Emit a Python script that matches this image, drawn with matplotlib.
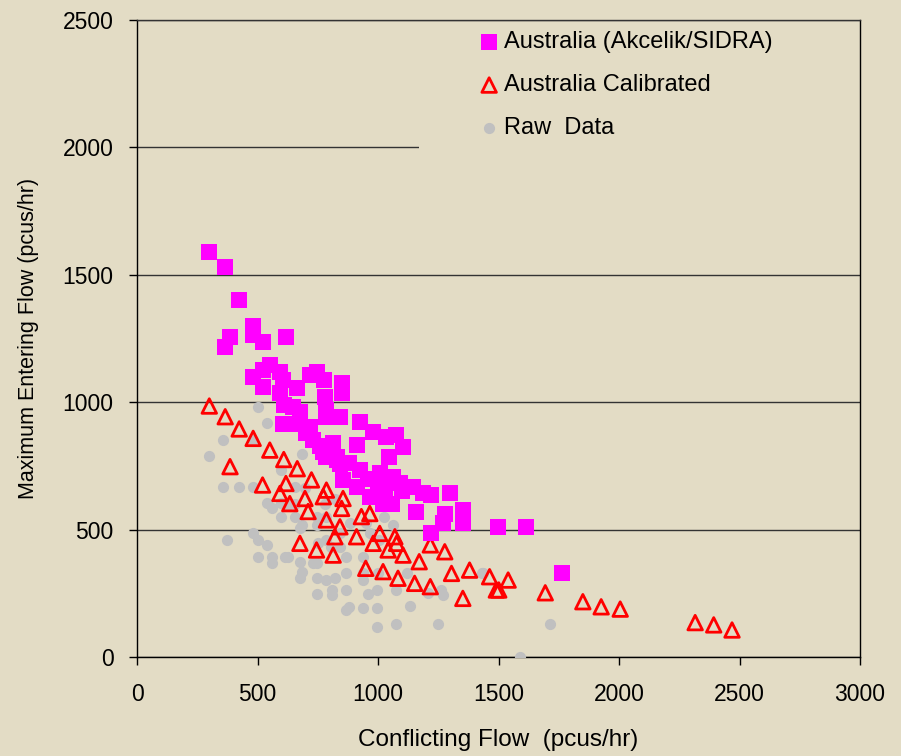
import matplotlib
matplotlib.use("Agg")
import matplotlib.pyplot as plt
from matplotlib.patches import Rectangle

plt.rcParams['font.family'] = ['Liberation Sans', 'DejaVu Sans']

# Australia (Akcelik/SIDRA)
sidra_x = [300, 365, 425, 482, 386, 366, 482, 521, 618, 551, 482, 524, 593, 524, 607, 593,
           662, 717, 745, 775, 851, 851, 782, 609, 648, 676, 786, 607, 662, 717, 786, 842,
           924, 980, 1035, 1074, 1104, 911, 731, 814, 773, 828, 1045, 842, 924, 1007, 1063,
           786, 828, 1090, 855, 911, 966, 1028, 1021, 1146, 1187, 1221, 1300, 1159, 1280,
           1352, 1352, 1270, 1221, 1498, 1613, 1762, 960, 700, 760, 880, 1000, 1100, 1060]
sidra_y = [1590, 1530, 1400, 1300, 1257, 1218, 1264, 1236, 1257, 1146, 1100, 1126, 1120,
           1061, 1087, 1036, 1056, 1107, 1120, 1087, 1074, 1037, 1021, 989, 982, 962, 968,
           916, 916, 903, 943, 943, 923, 884, 864, 871, 825, 832, 851, 838, 806, 786, 786,
           759, 734, 721, 708, 786, 773, 681, 695, 668, 629, 642, 602, 668, 642, 636, 642,
           571, 563, 577, 524, 524, 485, 511, 510, 330, 700, 880, 830, 760, 690, 650, 600]

# Australia Calibrated
cal_x = [300, 366, 424, 482, 386, 551, 609, 665, 521, 724, 593, 618, 634, 697, 710, 786,
         773, 786, 855, 849, 842, 821, 676, 745, 814, 911, 931, 966, 980, 1007, 1042, 1070,
         1077, 1104, 949, 1021, 1083, 1152, 1171, 1217, 1277, 1305, 1217, 1352, 1380, 1463,
         1491, 1540, 1501, 1694, 1850, 1926, 2005, 2316, 2393, 2469]
cal_y = [985, 943, 895, 858, 747, 812, 775, 739, 675, 695, 642, 681, 602, 622, 571, 655,
         629, 538, 622, 583, 511, 472, 446, 420, 400, 472, 551, 563, 446, 485, 420, 472,
         446, 400, 348, 335, 309, 289, 374, 440, 413, 328, 276, 230, 341, 315, 263, 302,
         263, 252, 217, 197, 188, 135, 126, 106]

# Raw Data
raw_x = [500, 540, 355, 482, 298, 685, 597, 355, 424, 482, 655, 697, 540, 562, 597, 627,
         655, 597, 655, 683, 676, 745, 784, 745, 782, 821, 883, 952, 966, 1024, 1063, 1005,
         842, 786, 752, 842, 807, 372, 482, 503, 540, 500, 562, 560, 614, 627, 676, 731,
         745, 869, 938, 683, 676, 745, 786, 821, 869, 938, 938, 998, 745, 811, 811, 869,
         959, 996, 1074, 880, 869, 938, 996, 1132, 996, 1074, 1247, 1122, 1208, 1263, 1270,
         1433, 1436, 1712, 1588]
raw_y = [982, 917, 852, 852, 789, 797, 734, 668, 668, 668, 668, 662, 606, 583, 606, 597,
         602, 551, 551, 518, 505, 551, 551, 518, 602, 622, 524, 524, 485, 551, 518, 459,
         485, 459, 446, 433, 433, 459, 485, 459, 440, 394, 394, 368, 394, 394, 374, 368,
         368, 394, 394, 335, 309, 309, 302, 309, 328, 328, 302, 328, 246, 263, 243, 263,
         246, 263, 263, 197, 184, 191, 191, 200, 119, 128, 128, 328, 250, 263, 243, 331,
         328, 128, 0]

bg = '#E3DCC5'
fig = plt.figure(figsize=(9.01, 7.56), dpi=100, facecolor=bg)
ax = fig.add_axes([137/901, 1 - 657/756, (860 - 137)/901, (657 - 20)/756])
ax.set_facecolor(bg)

ax.scatter(raw_x, raw_y, s=65, marker='o', color='#C0C0C0', linewidths=0,
           label='Raw  Data', zorder=3)
ax.scatter(cal_x, cal_y, s=110, marker='^', facecolors='none', edgecolors='#FF0000',
           linewidths=2, label='Australia Calibrated', zorder=4)
ax.scatter(sidra_x, sidra_y, s=135, marker='s', color='#FF00FF', linewidths=0,
           label='Australia (Akcelik/SIDRA)', zorder=5)

ax.set_xlim(0, 3000)
ax.set_ylim(0, 2500)
ax.set_xticks([0, 500, 1000, 1500, 2000, 2500, 3000])
ax.set_yticks([0, 500, 1000, 1500, 2000, 2500])
ax.yaxis.grid(True, color='#333333', linewidth=1)
ax.set_axisbelow(True)
for s in ax.spines.values():
    s.set_color('#000000')
    s.set_linewidth(1)
ax.spines['top'].set_color('#333333')
ax.tick_params(axis='both', direction='out', length=6, width=1, colors='#000000',
               labelsize=16.5)
ax.tick_params(axis='x', pad=13)
ax.tick_params(axis='y', pad=11)

ax.set_xlabel('Conflicting Flow  (pcus/hr)', fontsize=17.5, labelpad=16)
ax.set_ylabel('Maximum Entering Flow (pcus/hr)', fontsize=15.5, labelpad=17)

# background block under the legend (hides gridline)
ax.add_patch(Rectangle((0.39, 0.78), 0.61, 0.21, transform=ax.transAxes,
                       facecolor=bg, edgecolor='none', zorder=2))

handles, labels = ax.get_legend_handles_labels()
order = [2, 1, 0]
leg = ax.legend([handles[i] for i in order], [labels[i] for i in order],
                loc='upper left', bbox_to_anchor=(0.474, 0.982), frameon=False,
                fontsize=17, handletextpad=0.25, handlelength=0.8, labelspacing=0.88,
                markerscale=1.0, borderpad=0, borderaxespad=0)

fig.savefig('out.png', dpi=100, facecolor=bg)
